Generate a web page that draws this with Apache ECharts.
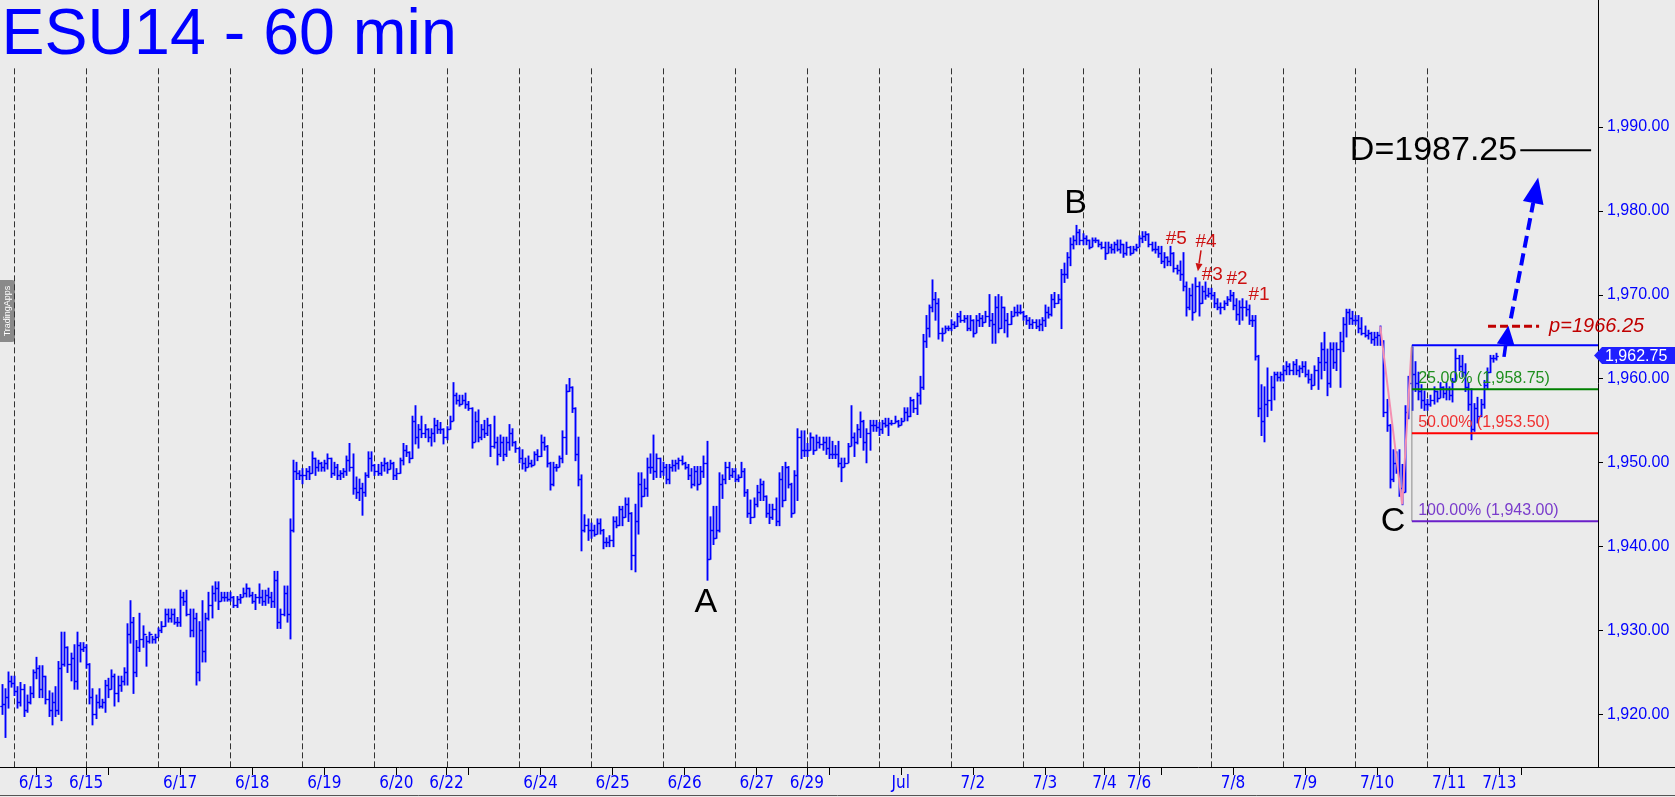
<!DOCTYPE html>
<html>
<head>
<meta charset="utf-8">
<script src="https://cdn.jsdelivr.net/npm/echarts@6.0.0/dist/echarts.min.js"></script>
<style>
html,body{margin:0;padding:0;background:#ebebeb;}
#c{width:1675px;height:797px;}
</style>
</head>
<body>
<div id="c"></div>
<script>
// ---------------- DATA (hourly OHLC bars, ESU14) ----------------
const opens = [
  1921,1921.25,1922,1924,
  1923.75,1922.75,1921.5,1923,1920.5,1921.5,1922.5,1925,1925.5,1923,1924.5,1921.75,1920.5,1921.5,1920.5,1925.5,1926,1928,1926,1926.75,1924,1928.25,1927.75,
  1928,1926,1922,1920,1921.5,1921,1921.5,1923.5,1923,1924.5,1922.5,1923.5,1924,1925,1929.5,1931,1925,1928,1929,1929.5,1928.75,1929.5,1929,
  1929.25,1930,1930.5,1932,1931.5,1932,1931,1931,1934,1933.5,1932,1930,1931.5,1925,1930,1927.5,1931.5,1933,1934.5,1935,1933.5,1934,1934,
  1933.75,1934,1933,1933.75,1934,1934.5,1935,1934.25,1933.5,1934,1934,1933.5,1934.25,1934,1933.5,1936,1931,1932,1934.5,1932,1942,1949,1948.75,
  1948.5,1948.5,1949,1948.75,1950.5,1949.5,1950,1949.5,1950,1950.5,1948.75,1949.5,1948.5,1948.75,1949,1950.25,1949.5,1947,1946.5,1947,1946.5,1948.5,1950.5,
  1949.75,1949,1948.75,1949.75,1950,1949.25,1950,1948.5,1948.75,1950.25,1951.5,1951.25,1950.5,1955,1953,1954,1953.5,1954,1953,1953.5,1954.5,1954,1954,
  1953,1954,1955,1958,1957.5,1957,1957.5,1957,1956.5,1952.5,1955,1953,1954,1953.5,1954.5,1952,1952.5,1951,1952.5,1951,1952.5,1953.5,1952.5,
  1951.75,1950.5,1950,1949.5,1950,1949.75,1951,1950.75,1952.5,1952,1950,1947.5,1949.5,1949.5,1950.5,1953,1958.5,1959,1956.5,1951,1948,1942,1942.5,
  1942,1942,1941.5,1942.75,1942,1940.5,1940.5,1940.75,1943,1942.5,1944.5,1943.5,1945,1944,1939,1943,1947.5,1946,1947,1949.5,1949.5,1949,1950.5,
  1949,1949.5,1948,1949.5,1949.75,1950,1950.25,1950,1949.5,1948.5,1947.5,1949,1947.5,1949,1950,1938.5,1942,1941,1942,1947.5,1948,1949.5,1948.5,
  1949,1948,1948.25,1949,1946.5,1944,1943.5,1945,1946.5,1947.5,1946,1944,1943.5,1944.5,1943,1948,1945.5,1949.5,1947.5,1944,1948.5,1953,1951.5,
  1951.5,1951.5,1953,1951.5,1952.5,1952.25,1952.5,1951.75,1951,1951,1951,1950,1949.5,1950,1952,1953,1952.5,1954,1955,1952.5,1953.5,1954.5,1954.5,
  1954.25,1954,1954.75,1954.5,1954.75,1954.75,1955,1954.5,1955,1956,1955.5,1957.5,1956.5,1958,1959,1964.5,1966,1968.5,1969.5,1969,1965.5,1965.5,1966,
  1966,1966.5,1966.25,1967.5,1967,1967.25,1966,1967,1965.5,1967,1967.25,1966.75,1967.5,1967,1966.5,1968.5,1966,1968.5,1967,1966.5,1967.5,1968,1968,
  1968,1967.5,1967,1966.5,1966.75,1966.25,1966.5,1967,1968,1967.75,1969.5,1969,1969.5,1972.5,1972.5,1974.5,1976,1976.5,1977.5,
  1976.5,1976.75,1976.5,1975.75,1976.5,1976.5,1976,1975.75,1975,1975.75,1975.5,1976,1975.5,1976,1975,1975.75,1975,1975.5,
  1975.75,1976.75,1977,1977.25,1976,1975.5,1975.5,1975,1974,1974.5,1974,1975,1973.25,1973,1972.5,1971,1968.5,1970,1968,1971,1969,1970.5,1970,
  1970.25,1970,1969,1968.5,1968.5,1969,1969.5,1970,1968.75,1967.75,1968.5,1968.5,1968.25,1967,1967,1962.75,1956.5,1955,1957,1957.5,1959,1960.5,1960.25,
  1960.5,1961,1961.5,1961,1961.75,1961,1961.25,1961.5,1960.5,1960,1959.25,1961,1962,1963.5,1962,1959.5,1963.5,1962,1963.5,1964.5,1966.5,1968,1967.25,
  1967,1967,1966,1965.5,1965.25,1965.5,1964.75,1965,1965.25,1964.5,1956,1954.5,1948,1950,1949,1947,1946.5,1956,1959.5,1960.5,1959.5,1958.5,1957.5,
  1957,1957,1957.5,1958.5,1957.75,1959,1958.25,1958.75,1958,1959.75,1962.5,1961.5,1960.75,1959,1957,1954,1956.5,1955.5,1957,1959.25,1960.75,1962.5,1962.5
];
const highs = [
  1923.5,1923,1925,1924.5,
  1924.5,1923.25,1923.75,1923.5,1922.25,1923.25,1925.25,1926.75,1925.75,1925.75,1924.5,1922.75,1922.5,1923.25,1926.25,1929.75,1929.75,1928,1927.25,1928.25,1929.75,1928.5,1928.5,
  1928.25,1926,1923,1922.25,1923,1921.75,1924,1924.25,1925.25,1924.75,1924.5,1924.5,1925.5,1930.75,1933.5,1931.5,1928.75,1932,1930.5,1929.25,1929.75,1929.25,1929.5,
  1930.25,1931,1932.5,1932.5,1932.5,1932.5,1931.5,1934.75,1934.5,1934.75,1932.5,1932.5,1932,1931,1933.5,1932,1934.5,1935.25,1935.75,1935.75,1934.5,1934.5,1934.5,
  1934.5,1934,1934,1934.25,1935,1935.5,1935,1934.5,1934.25,1935.5,1934.75,1934.75,1935,1934.5,1937,1937,1932.5,1935.25,1935.25,1943.25,1950.25,1950,1949,
  1949.25,1949.25,1949.5,1951.25,1950.5,1950.25,1950,1950.25,1951,1950.5,1950,1949.75,1949,1949.25,1950.75,1952.25,1951,1948.25,1948,1947.5,1948.75,1951.25,1951.25,
  1949.75,1949.75,1950,1950.5,1950,1950.25,1950,1949.25,1950.5,1952.25,1952,1951.25,1955.5,1956.75,1954.5,1955.5,1954.5,1954,1954,1955.25,1955,1954.75,1954,
  1954.25,1955.5,1959.5,1958.25,1958,1958,1958.25,1957.25,1956.5,1956,1956.25,1954.5,1955,1955.25,1954.5,1955.5,1953,1953.25,1953,1953,1954.5,1954,1952.5,
  1951.75,1951.5,1950.5,1950.75,1950.25,1951.25,1951.5,1953.25,1953,1952,1950,1950,1949.75,1950.75,1953.75,1959.25,1960,1959,1956.5,1953,1948.5,1943.75,1943.25,
  1942.75,1942.5,1943.25,1943.25,1942,1941,1941.25,1943.5,1943.5,1944.75,1944.75,1945.75,1945.75,1944,1945,1948.75,1948.75,1948,1950.5,1951,1953.25,1951,1950.5,
  1950,1949.75,1949.75,1950.25,1950.25,1950.5,1950.75,1950,1949.75,1949.25,1949.5,1949.5,1949.5,1950.75,1952.5,1943.5,1944.75,1944.75,1948.75,1948.5,1950,1950,1949.25,
  1949.25,1948.5,1950,1949.25,1946.75,1945.5,1945.75,1947.25,1948,1947.75,1946,1945,1945,1945.75,1948.75,1949.5,1950,1949.5,1947.5,1949,1954,1953.75,1953.75,
  1952.25,1953.5,1953,1953.25,1953,1953,1953,1953,1952.5,1952,1952.5,1950.5,1950.5,1952.25,1956.75,1953.5,1954.5,1956,1955,1954,1955,1955,1955,
  1954.75,1955,1955.25,1955.25,1955,1955.5,1955,1955.25,1956.5,1956.5,1957.75,1957.5,1958.25,1960.25,1965.25,1967.5,1968.75,1971.75,1970.25,1969.5,1966,1966.25,1966.25,
  1967,1966.75,1967.75,1968,1967.5,1967.5,1967.5,1967,1967.5,1967.75,1967.5,1968,1970,1967.75,1969.75,1970,1969.75,1968.5,1967.75,1968,1968.5,1968.75,1968.75,
  1968,1967.5,1967.25,1967,1967,1967,1967.25,1968.75,1968.5,1970,1970.25,1970,1973,1973.75,1975,1976.75,1977,1978.25,1977.75,
  1977.25,1977,1976.5,1976.75,1976.75,1976.5,1976.25,1976.25,1976.25,1976,1976.25,1976.5,1976.5,1976,1976.25,1975.75,1975.75,1976,
  1977,1977.5,1977.5,1977.25,1976.25,1976.25,1975.75,1975.75,1975,1974.5,1975.75,1975,1973.5,1974,1975,1971.5,1970.75,1971.25,1972,1971.5,1971,1971.5,1970.75,
  1970.75,1970.25,1969.5,1969,1969.25,1969.75,1970.5,1970.25,1969.5,1969.25,1969.5,1969.25,1968.75,1967.5,1967.5,1962.75,1959.25,1959,1961.25,1960.25,1960.75,1960.75,1960.75,
  1961.5,1962,1961.75,1962,1962.25,1961.5,1962,1962,1961,1960.5,1961.5,1962.5,1964.25,1965.5,1963.5,1964.25,1964.25,1964.25,1965.5,1967.25,1968.25,1968.25,1968,
  1967.5,1967.5,1967.25,1966.25,1965.75,1965.5,1965.5,1965.5,1966.25,1964.5,1957.5,1954.5,1951.5,1951.25,1951.5,1949.75,1956.75,1960.25,1963.75,1962,1960.75,1959.25,1958.5,
  1957.5,1958,1959,1958.5,1959.5,1959,1959.5,1959,1960,1963.5,1962.75,1962.75,1961.75,1959.5,1958.75,1957,1957.75,1957.5,1959.75,1961.25,1962.75,1962.75,1963
];
const lows = [
  1920,1917.25,1920.75,1923.25,
  1922.25,1920.75,1921,1919.75,1920.25,1921.25,1922,1924.25,1922,1922,1921.25,1919.75,1918.75,1919.75,1920,1919.25,1925.75,1925,1924,1923,1923,1926.25,1927.5,
  1925.5,1921.25,1918.75,1919.5,1920.75,1920.75,1920.25,1922,1923,1921,1921.5,1922.75,1923.5,1923.5,1928.5,1922.5,1924.5,1927.5,1928,1925.75,1928.5,1928.5,1928.5,
  1929.25,1929.75,1930.5,1931,1931,1930.75,1930.5,1930.5,1933,1931.75,1929.25,1929.25,1923.5,1924,1926.25,1926.25,1931.25,1931.5,1933.5,1932.5,1933.5,1933.5,1933.5,
  1933.5,1932.75,1932.75,1933.25,1934,1934,1934,1933.25,1932.5,1933.25,1933,1933,1933.25,1932.75,1932.75,1930.25,1930.25,1931.75,1931,1929,1941.75,1948,1948,
  1947.5,1948,1948,1948.75,1948.5,1949,1949,1949,1949.25,1948.25,1948.5,1948,1948,1948.25,1948.5,1949,1946.25,1945.75,1945.5,1943.75,1946,1948.25,1949,
  1948.5,1948.5,1948.5,1949,1948.75,1949.25,1948,1948,1948.75,1949.75,1950.75,1950,1950.5,1952.25,1951.75,1953,1953,1952.5,1952,1952.5,1953.5,1953.5,1952.25,
  1952.75,1954,1955,1957,1956.75,1957,1956.5,1956.25,1951.75,1952.5,1952.5,1952.75,1953,1953.25,1950.75,1951.75,1949.75,1950.75,1950.25,1950.75,1951.5,1952,1951.25,
  1950,1949.25,1949,1949.5,1949.5,1949.75,1950.25,1950.75,1951.5,1949.5,1946.75,1947.25,1949,1949.5,1950,1951,1958.5,1956,1950.25,1947.25,1939.5,1941.75,1940.75,
  1941,1941.25,1941.5,1941.5,1939.75,1940,1940,1940,1942.25,1942.5,1942.5,1943.5,1943,1937.25,1937,1941.5,1944.75,1946,1946,1948.75,1948,1948.25,1948.25,
  1948.5,1947.5,1947.5,1949,1949,1949.25,1949.75,1949.25,1948,1947,1947.25,1946.75,1947.5,1948.25,1936,1938.5,1940.25,1941,1941.75,1945.75,1947.5,1948,1948.25,
  1947.75,1947.75,1948.25,1946,1943.5,1942.75,1943.5,1944.75,1945.5,1945.5,1943.5,1942.75,1943.25,1942.5,1942.5,1944.75,1945.5,1947,1943.5,1944,1945.5,1950.5,1950.75,
  1950.75,1951.5,1951,1951.5,1951.75,1951.5,1951,1950.5,1950.5,1950.5,1949.5,1947.75,1949.5,1950,1952,1950.75,1952.25,1953,1951.5,1950,1951.5,1953.75,1953.75,
  1953.25,1953.5,1954.25,1953.25,1954.5,1954.75,1954.25,1954.5,1955,1955,1955.5,1956,1955.75,1957,1958.75,1963.75,1965,1968,1967,1964.75,1964.5,1965.5,1965.75,
  1965.75,1966,1966.25,1966.75,1966.75,1965.75,1965.75,1965,1965.5,1966.25,1966.25,1966.75,1966.25,1964.25,1964.25,1965.5,1966,1965.5,1965,1966.5,1967.5,1967.5,1967.75,
  1967,1966.5,1966,1966,1966,1965.75,1965.75,1966.25,1967.25,1967.5,1968.5,1969,1966,1971.5,1972,1973.5,1975.5,1976,1976,
  1976,1976,1975.5,1975.75,1976.25,1975.75,1975.5,1974.25,1975,1975,1975,1975.25,1975,1974.5,1974.75,1974.75,1975,1975.25,
  1975.75,1976.25,1976.5,1975.75,1975.25,1975,1974.5,1973.75,1973.25,1973.5,1973.5,1972.75,1972.5,1971.75,1970.5,1967.5,1968.25,1967,1968,1967.5,1969,1969.5,1969.75,
  1969.5,1968.5,1968.25,1967.75,1968.25,1968.75,1969.25,1968.25,1967,1966.5,1967,1967.5,1966.5,1966.25,1962.25,1955.5,1953.25,1952.5,1955.5,1956.25,1957.5,1959.75,1959.75,
  1959.75,1960.5,1960.5,1960.5,1960.5,1960.25,1960.75,1960.25,1959.5,1958.75,1959.25,1958.75,1960,1961,1958,1959,1961.25,1961,1959,1963.25,1965,1966.5,1966.5,
  1966.5,1965.5,1965.25,1965,1964.75,1964.25,1964,1964,1964,1955.5,1953.75,1947,1947.75,1948.75,1946,1945,1946.5,1955.25,1956.25,1958.5,1957.5,1956.5,1956.25,
  1956.25,1956.75,1957,1957.25,1957.75,1957.75,1957.5,1957.5,1957.25,1959.75,1961,1960.25,1958.5,1956.25,1952.75,1953.75,1954.75,1955.5,1956.5,1958.75,1960.75,1962,1962.25
];
const closes = [
  1921.25,1922,1924,1923.75,
  1922.75,1921.5,1923,1920.5,1921.5,1922.5,1925,1925.5,1923,1924.5,1921.75,1920.5,1921.5,1920.5,1925.5,1926,1928,1926,1926.75,1924,1928.25,1927.75,1928,
  1926,1922,1920,1921.5,1921,1921.5,1923.5,1923,1924.5,1922.5,1923.5,1924,1925,1929.5,1931,1925,1928,1929,1929.5,1928.75,1929.5,1929,1929.25,
  1930,1930.5,1932,1931.5,1932,1931,1931,1934,1933.5,1932,1930,1931.5,1925,1930,1927.5,1931.5,1933,1934.5,1935,1933.5,1934,1934,1933.75,
  1934,1933,1933.75,1934,1934.5,1935,1934.25,1933.5,1934,1934,1933.5,1934.25,1934,1933.5,1936,1931,1932,1934.5,1932,1942,1949,1948.75,1948.5,
  1948.5,1949,1948.75,1950.5,1949.5,1950,1949.5,1950,1950.5,1948.75,1949.5,1948.5,1948.75,1949,1950.25,1949.5,1947,1946.5,1947,1946.5,1948.5,1950.5,1949.75,
  1949,1948.75,1949.75,1950,1949.25,1950,1948.5,1948.75,1950.25,1951.5,1951.25,1950.5,1955,1953,1954,1953.5,1954,1953,1953.5,1954.5,1954,1954,1953,
  1954,1955,1958,1957.5,1957,1957.5,1957,1956.5,1952.5,1955,1953,1954,1953.5,1954.5,1952,1952.5,1951,1952.5,1951,1952.5,1953.5,1952.5,1951.75,
  1950.5,1950,1949.5,1950,1949.75,1951,1950.75,1952.5,1952,1950,1947.5,1949.5,1949.5,1950.5,1953,1958.5,1959,1956.5,1951,1948,1942,1942.5,1942,
  1942,1941.5,1942.75,1942,1940.5,1940.5,1940.75,1943,1942.5,1944.5,1943.5,1945,1944,1939,1943,1947.5,1946,1947,1949.5,1949.5,1949,1950.5,1949,
  1949.5,1948,1949.5,1949.75,1950,1950.25,1950,1949.5,1948.5,1947.5,1949,1947.5,1949,1950,1938.5,1942,1941,1942,1947.5,1948,1949.5,1948.5,1949,
  1948,1948.25,1949,1946.5,1944,1943.5,1945,1946.5,1947.5,1946,1944,1943.5,1944.5,1943,1948,1945.5,1949.5,1947.5,1944,1948.5,1953,1951.5,1951.5,
  1951.5,1953,1951.5,1952.5,1952.25,1952.5,1951.75,1951,1951,1951,1950,1949.5,1950,1952,1953,1952.5,1954,1955,1952.5,1953.5,1954.5,1954.5,1954.25,
  1954,1954.75,1954.5,1954.75,1954.75,1955,1954.5,1955,1956,1955.5,1957.5,1956.5,1958,1959,1964.5,1966,1968.5,1969.5,1969,1965.5,1965.5,1966,1966,
  1966.5,1966.25,1967.5,1967,1967.25,1966,1967,1965.5,1967,1967.25,1966.75,1967.5,1967,1966.5,1968.5,1966,1968.5,1967,1966.5,1967.5,1968,1968,1968,
  1967.5,1967,1966.5,1966.75,1966.25,1966.5,1967,1968,1967.75,1969.5,1969,1969.5,1972.5,1972.5,1974.5,1976,1976.5,1977.5,1976.5,
  1976.75,1976.5,1975.75,1976.5,1976.5,1976,1975.75,1975,1975.75,1975.5,1976,1975.5,1976,1975,1975.75,1975,1975.5,1975.75,
  1976.75,1977,1977.25,1976,1975.5,1975.5,1975,1974,1974.5,1974,1975,1973.25,1973,1972.5,1971,1968.5,1970,1968,1971,1969,1970.5,1970,1970.25,
  1970,1969,1968.5,1968.5,1969,1969.5,1970,1968.75,1967.75,1968.5,1968.5,1968.25,1967,1967,1962.75,1956.5,1955,1957,1957.5,1959,1960.5,1960.25,1960.5,
  1961,1961.5,1961,1961.75,1961,1961.25,1961.5,1960.5,1960,1959.25,1961,1962,1963.5,1962,1959.5,1963.5,1962,1963.5,1964.5,1966.5,1968,1967.25,1967,
  1967,1966,1965.5,1965.25,1965.5,1964.75,1965,1965.25,1964.5,1956,1954.5,1948,1950,1949,1947,1946.5,1956,1959.5,1960.5,1959.5,1958.5,1957.5,1957,
  1957,1957.5,1958.5,1957.75,1959,1958.25,1958.75,1958,1959.75,1962.5,1961.5,1960.75,1959,1957,1954,1956.5,1955.5,1957,1959.25,1960.75,1962.5,1962.5,1962.75
];
// bar index where each trading session begins (dashed separators)
const sessionStarts = [4,27,50,73,96,119,142,165,188,211,234,257,280,303,326,345,363,386,409,432,455];
// date labels on the time axis and the bar slot they fall on
const dateLabels    = ['6/13','6/15','6/17','6/18','6/19','6/20','6/22','6/24','6/25','6/26','6/27','6/29','Jul','7/2','7/3','7/4','7/6','7/8','7/9','7/10','7/11','7/13'];
const dateLabelBars = [11,27,57,80,103,126,142,172,195,218,241,257,287,310,333,352,363,393,416,439,462,478];
const unlabeledTickBars = [34,149,264,370,485];
// price axis ticks
const priceTicks = [1920,1930,1940,1950,1960,1970,1980,1990];
// analysis levels
const fibHigh = 1964.00, fibLow = 1943.00;
const fibPcts = [0.25, 0.50, 1.00];
const pivotP = 1966.25;
const targetD = 1987.25;

// ---------------- LAYOUT ----------------
const N_SLOTS = 510;
const Y_MIN = 1913.7, Y_MAX = 2005.15;
const DIV_TOP = 1997.0;
const BLUE = '#0000ff';

function fontAvailable(name){
  const ctx = document.createElement('canvas').getContext('2d');
  const s = '6/13 7/10 Jul 0123456789';
  ctx.font = '40px monospace'; const a = ctx.measureText(s).width;
  ctx.font = '40px "' + name + '", monospace'; const b = ctx.measureText(s).width;
  return Math.abs(a - b) > 0.5;
}
let xFont = '"Liberation Sans", Arial, sans-serif', xFontSize = 17, xMargin = 9;
if (fontAvailable('Liberation Sans Narrow')) { xFont = '"Liberation Sans Narrow"'; xFontSize = 21; xMargin = 7; }
else if (fontAvailable('DejaVu Sans Condensed')) { xFont = '"DejaVu Sans Condensed"'; xFontSize = 17; xMargin = 8; }

const fmtPrice = v => Number(v).toLocaleString('en-US', {minimumFractionDigits:2, maximumFractionDigits:2});
const labelMap = {};
dateLabelBars.forEach((b, k) => { labelMap[b] = dateLabels[k]; });

const ohlc = closes.map((c, i) => [i, opens[i], highs[i], lows[i], c]);
const lenOK = opens.length === closes.length && highs.length === closes.length && lows.length === closes.length;

// annotation placement (data coordinates: bar slot, price)
const ANNO = {
  letters: [{t:'A', x:224.8, v:1933.3}, {t:'B', x:342.8, v:1980.9}, {t:'C', x:444.1, v:1942.9}],
  counts: [{t:'#5', x:374.9, v:1976.7}, {t:'#4', x:384.4, v:1976.3}, {t:'#3', x:386.4, v:1972.4}, {t:'#2', x:394.3, v:1971.9}, {t:'#1', x:401.3, v:1970.0}],
  countArrow: [[382.8, 1975.3], [381.8, 1972.8]],
  cLeg: [440, 447, 450],
  fibX: 450.1, fibTextX: 452.1,
  dLine: [484.7, 507.3], dTextX: 483.7,
  pLine: [474.4, 490.7], pTextX: 493.9,
  arrowSolid: [[479.5, 1962.6], [480.9, 1966.3]],
  arrowDash: [[481.7, 1967.2], [490.4, 1984.0]]
};

function renderBar(params, api){
  const i = api.value(0);
  const pO = api.coord([i, api.value(1)]);
  const pH = api.coord([i, api.value(2)]);
  const pL = api.coord([i, api.value(3)]);
  const pC = api.coord([i, api.value(4)]);
  const x = Math.round(pH[0]) + 0.5;
  const yo = Math.round(pO[1]) + 0.5, yc = Math.round(pC[1]) + 0.5;
  return {type:'group', children:[
    {type:'line', shape:{x1:x, y1:pH[1]-0.7, x2:x, y2:pL[1]+0.7}, style:{stroke: BLUE, lineWidth: 1.9}},
    {type:'line', shape:{x1:x-2.2, y1:yo, x2:x, y2:yo}, style: {stroke: BLUE, lineWidth: 1.3}},
    {type:'line', shape:{x1:x, y1:yc, x2:x+2.2, y2:yc}, style: {stroke: BLUE, lineWidth: 1.3}}
  ]};
}

function renderDivider(params, api){
  const p = api.coord([api.value(0), DIV_TOP]);
  const x = Math.round(p[0]) + 0.5;
  const yBot = params.coordSys.y + params.coordSys.height;
  return {type:'line', shape:{x1:x, y1:p[1], x2:x, y2:yBot},
          style:{stroke:'#333333', lineWidth:1, lineDash:[6,3]}};
}

function renderAnno(params, api){
  const P = (x, v) => api.coord([x, v]);
  const cs = params.coordSys;
  const gx1 = cs.x + cs.width;
  const kids = [];
  const line = (a, b, stroke, lw, dash) => kids.push({type:'line', shape:{x1:a[0], y1:a[1], x2:b[0], y2:b[1]},
      style:{stroke:stroke, lineWidth:lw, lineDash: dash || null}});
  const text = (t, p, size, fill, align, va, extra) => kids.push({type:'text', x:p[0], y:p[1],
      style:Object.assign({text:t, fontSize:size, fontFamily:'"Liberation Sans", Arial, sans-serif', fill:fill, align:align, verticalAlign:va}, extra || {})});
  const arrow = (a, b, stroke, lw, hl, hw, dash) => {
    const dx = b[0]-a[0], dy = b[1]-a[1], L = Math.hypot(dx, dy), ux = dx/L, uy = dy/L;
    const bx = b[0]-ux*hl, by = b[1]-uy*hl, nx = -uy, ny = ux;
    line(a, [bx, by], stroke, lw, dash);
    kids.push({type:'polygon', shape:{points:[[b[0], b[1]], [bx+nx*hw/2, by+ny*hw/2], [bx-nx*hw/2, by-ny*hw/2]]}, style:{fill:stroke}});
  };

  // C-leg (pink)
  const [c0, c1, c2] = ANNO.cLeg;
  kids.push({type:'polyline', shape:{points:[P(c0, highs[c0]), P(c1, lows[c1]), P(c2, highs[c2])]},
             style:{stroke:'#f48fb1', lineWidth:2, fill:null}});

  // Fibonacci box
  line(P(ANNO.fibX, fibHigh), P(ANNO.fibX, fibLow), '#8a8a8a', 1);
  line(P(ANNO.fibX, fibHigh), [gx1, P(ANNO.fibX, fibHigh)[1]], BLUE, 2);
  const fibColors = [['#008000', '#1f8f1f'], ['#ff0000', '#f03030'], ['#6a1fc9', '#7a3ccc']];
  fibPcts.forEach((pct, k) => {
    const v = fibHigh - pct * (fibHigh - fibLow);
    const y = P(ANNO.fibX, v)[1];
    line([P(ANNO.fibX, v)[0], y], [gx1, y], fibColors[k][0], 2);
    text((pct*100).toFixed(2) + '% (' + fmtPrice(v) + ')', [P(ANNO.fibTextX, v)[0], y - 3], 16, fibColors[k][1], 'left', 'bottom');
  });

  // wave letters and counts
  ANNO.letters.forEach(o => text(o.t, P(o.x, o.v), 34, '#000', 'center', 'middle'));
  ANNO.counts.forEach(o => text(o.t, P(o.x, o.v), 19, '#cc1111', 'center', 'middle'));
  arrow(P(...ANNO.countArrow[0]), P(...ANNO.countArrow[1]), '#cc1111', 1.5, 8, 7);

  // D target
  line(P(ANNO.dLine[0], targetD), P(ANNO.dLine[1], targetD), '#000', 2);
  text('D=' + targetD.toFixed(2), P(ANNO.dTextX, targetD), 34, '#000', 'right', 'middle');

  // pivot p
  line(P(ANNO.pLine[0], pivotP), P(ANNO.pLine[1], pivotP), '#c00000', 3, [8, 4]);
  text('p=' + pivotP.toFixed(2), P(ANNO.pTextX, pivotP), 20, '#c00000', 'left', 'middle', {fontStyle:'italic'});

  // projected path arrows
  arrow(P(...ANNO.arrowSolid[0]), P(...ANNO.arrowSolid[1]), BLUE, 3.5, 19, 18);
  arrow(P(...ANNO.arrowDash[0]), P(...ANNO.arrowDash[1]), BLUE, 4, 26, 21, [12, 6]);

  // last price tag on the axis
  const last = closes[closes.length - 1];
  const yl = P(0, last)[1];
  kids.push({type:'polygon', shape:{points:[[gx1-4, yl], [gx1+4, yl-8.5], [1675, yl-8.5], [1675, yl+8.5], [gx1+4, yl+8.5]]}, style:{fill:'#1f1fff'}});
  text(fmtPrice(last), [gx1 + 7, yl + 0.5], 16, '#ffffff', 'left', 'middle');

  if (!lenOK) text('LEN MISMATCH ' + [opens.length, highs.length, lows.length, closes.length].join(','), [400, 40], 20, 'red', 'left', 'middle');
  return {type:'group', children: kids};
}

const chart = echarts.init(document.getElementById('c'), null, {renderer:'canvas', width:1675, height:797});
chart.setOption({
  backgroundColor: '#ebebeb',
  animation: false,
  grid: {left:0, right:77, top:0, bottom:30, containLabel:false},
  xAxis: {
    type:'value', min:-0.5, max:N_SLOTS-0.5,
    axisLine:{show:true, onZero:false, lineStyle:{color:'#000', width:1}},
    axisTick:{show:true, customValues: dateLabelBars.concat(unlabeledTickBars), length:8, lineStyle:{color:'#000'}},
    axisLabel:{show:true, customValues: dateLabelBars, formatter: v => labelMap[Math.round(v)] || '',
               color: BLUE, fontFamily: xFont, fontSize: xFontSize, margin: xMargin},
    splitLine:{show:false}
  },
  yAxis: {
    type:'value', position:'right', min:Y_MIN, max:Y_MAX,
    axisLine:{show:true, onZero:false, lineStyle:{color:'#000', width:1}},
    axisTick:{show:true, customValues: priceTicks, length:5, lineStyle:{color:'#000'}},
    axisLabel:{show:true, customValues: priceTicks, formatter: fmtPrice, color: BLUE,
               fontFamily:'"Liberation Sans", Arial, sans-serif', fontSize:16, margin:9},
    splitLine:{show:false}
  },
  series: [
    {type:'custom', name:'sessions', renderItem: renderDivider, data: sessionStarts.map(i => [i]), encode:{x:0}, silent:true, z:1},
    {type:'custom', name:'ESU14', renderItem: renderBar, data: ohlc, encode:{x:0, y:[1,2,3,4]}, z:2},
    {type:'custom', name:'analysis', renderItem: renderAnno, data: [[0, 1950]], encode:{x:0, y:1}, silent:true, z:3, clip:false}
  ],
  graphic: [
    {type:'text', x:1.5, y:36, style:{text:'ESU14 - 60 min', font:'64.5px "Liberation Sans", Arial, sans-serif', fill:BLUE, verticalAlign:'middle'}},
    {type:'line', shape:{x1:1598, y1:767.5, x2:1675, y2:767.5}, style:{stroke:'#000', lineWidth:1}},
    {type:'line', shape:{x1:0, y1:795.5, x2:1675, y2:795.5}, style:{stroke:'#555', lineWidth:1}},
    {type:'rect', shape:{x:0, y:280, width:15, height:62, r:[0,3,3,0]}, style:{fill:'#8a8a8a'}},
    {type:'text', x:7.5, y:311, rotation:Math.PI/2, style:{text:'TradingApps', font:'9px "Liberation Sans", Arial', fill:'#ffffff', align:'center', verticalAlign:'middle'}}
  ]
});
</script>
</body>
</html>
